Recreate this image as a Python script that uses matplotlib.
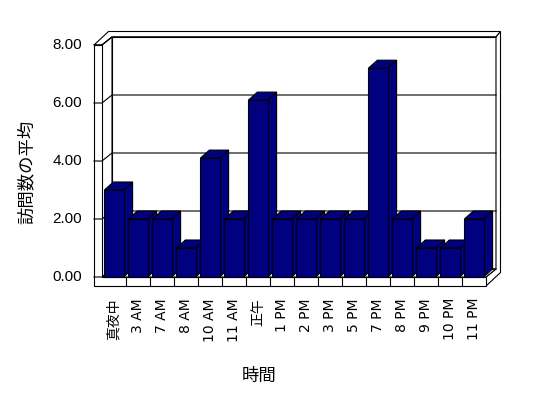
import matplotlib
matplotlib.use("Agg")
import matplotlib.pyplot as plt
from matplotlib.patches import Polygon

# data
hours = ["真夜中", "3 AM", "7 AM", "8 AM", "10 AM", "11 AM", "正午", "1 PM",
         "2 PM", "3 PM", "5 PM", "7 PM", "8 PM", "9 PM", "10 PM", "11 PM"]
avg_visits = [3.0, 2.0, 2.0, 1.0, 4.1, 2.0, 6.1, 2.0,
              2.0, 2.0, 2.0, 7.2, 2.0, 1.0, 1.0, 2.0]
y_ticks = [0, 2, 4, 6, 8]

W, H = 548, 398
fig = plt.figure(figsize=(W / 100, H / 100), dpi=100)

# front plane of the 3d box, in pixels
left_px, right_px, top_px, bottom_px = 102, 486, 45, 277
ax = fig.add_axes([left_px / W, 1 - bottom_px / H,
                   (right_px - left_px) / W, (bottom_px - top_px) / H])
n = len(hours)
ax.set_xlim(-0.5, n - 0.5)
ax.set_ylim(y_ticks[0], y_ticks[-1])
ax.axis("off")

# data units per pixel
cx = n / (right_px - left_px)
cy = (y_ticks[-1] - y_ticks[0]) / (bottom_px - top_px)


def shift(pt, d):
    # d is a screen offset in pixels (x right, y down)
    return (pt[0] + d[0] * cx, pt[1] - d[1] * cy)


def face(pts, fc="white", z=1):
    ax.add_patch(Polygon(pts, closed=True, fc=fc, ec="black", lw=0.8,
                         zorder=z, clip_on=False, joinstyle="miter"))


D = (10, -8)        # depth of the box
DT = (14.5, -13.5)  # depth including back wall thickness
B = (9, -8)         # depth of the bars
x0, x1 = ax.get_xlim()
y0, y1 = ax.get_ylim()
xw = x0 - 8 * cx    # outer face of left wall
yf = y0 - 9 * cy    # underside of floor

# walls and floor
face([shift((x0, y0), D), shift((x1, y0), D), shift((x1, y1), D), shift((x0, y1), D)])
face([(xw, y1), (x0, y1), shift((x0, y1), D), shift((x1, y1), D),
      shift((x1, y1), DT), shift((xw, y1), DT)])
face([(x1, yf), (x1, y0), shift((x1, y0), D), shift((x1, y1), D),
      shift((x1, y1), DT), shift((x1, yf), DT)])
face([(x0, y0), (x0, y1), shift((x0, y1), D), shift((x0, y0), D)])
face([(x0, y0), (x1, y0), shift((x1, y0), D), shift((x0, y0), D)])
face([(xw, yf), (x1, yf), (x1, y0), (x0, y0), (x0, y1), (xw, y1)])

# gridlines running over the left wall and the back wall
for v in y_ticks:
    p = shift((x0, v), D)
    q = shift((x1, v), D)
    ax.plot([xw, x0, p[0], q[0]], [v, v, p[1], q[1]], color="black",
            lw=0.8, zorder=2, clip_on=False)
    ax.text(xw - 12 * cx, v, f"{v:.2f}", ha="right", va="center",
            fontsize=11, family="Liberation Sans")

# category dividers on the floor front
for k in range(1, n):
    ax.plot([k - 0.5, k - 0.5], [yf, y0], color="black", lw=0.8,
            zorder=2, clip_on=False)

# bars
bw = 0.4
for i, v in enumerate(avg_visits):
    z = 3 + i
    face([(i + bw, y0), (i + bw, v), shift((i + bw, v), B), shift((i + bw, y0), B)],
         "#000080", z)
    face([(i - bw, v), (i + bw, v), shift((i + bw, v), B), shift((i - bw, v), B)],
         "#000080", z)
    face([(i - bw, y0), (i + bw, y0), (i + bw, v), (i - bw, v)], "#000080", z)
    ax.text(i, yf - 12 * cy, hours[i], rotation=90, ha="center", va="top",
            fontsize=10, family=["DejaVu Sans", "Noto Sans CJK JP"])

fig.text(27 / W, 1 - 172 / H, "訪問数の平均", rotation=90, ha="center",
         va="center", fontsize=12.5, family="Noto Sans CJK JP")
fig.text(259 / W, 1 - 376 / H, "時間", ha="center", va="center",
         fontsize=12.5, family="Noto Sans CJK JP")

fig.savefig("out.png", dpi=100)
